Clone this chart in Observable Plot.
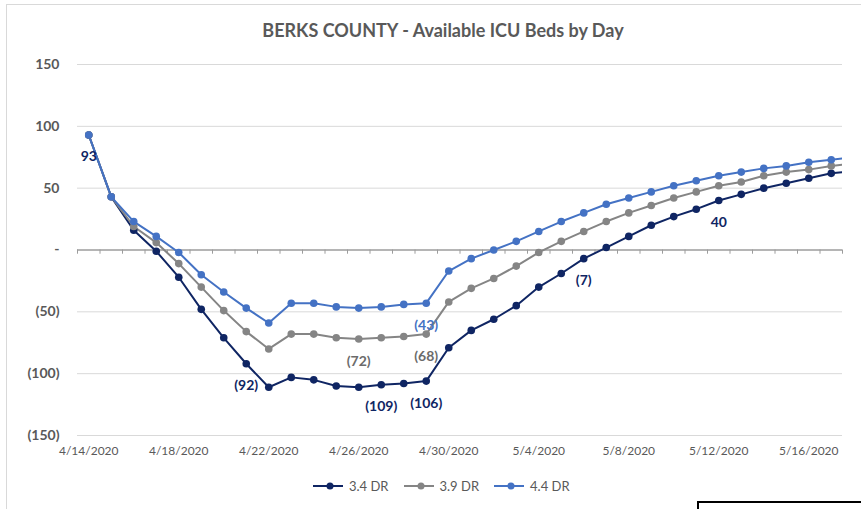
<!DOCTYPE html>
<html>
<head>
<meta charset="utf-8">
<script src="https://cdn.jsdelivr.net/npm/d3@7"></script>
<script src="https://cdn.jsdelivr.net/npm/@observablehq/plot@0.6"></script>
<style>
  body { margin: 0; background: #fff; font-family: Lato, "Open Sans", sans-serif; }
  #wrap { position: relative; width: 861px; height: 509px; overflow: hidden; background: #fff; }
  #border { position: absolute; left: 6px; top: 4px; width: 900px; height: 600px; border: 1px solid #d9d9d9; box-sizing: border-box; }
  #title { position: absolute; left: 0; width: 886px; top: 19px; text-align: center; font-size: 18px; font-weight: 700; color: #595959; }
  #chart { position: absolute; left: 0; top: 0; }
  #legend { position: absolute; top: 478px; left: 313px; display: flex; align-items: center; font-size: 13px; color: #595959; }
  #legend .item { display: flex; align-items: center; margin-right: 15px; }
  #legend svg { margin-right: 6px; }
  #box { position: absolute; left: 697px; top: 501px; width: 300px; height: 100px; border: 2px solid #000; }
</style>
</head>
<body>
<div id="wrap">
  <div id="border"></div>
  <div id="title"></div>
  <div id="chart"></div>
  <div id="legend"></div>
  <div id="box"></div>
</div>
<script>
const titleText = "BERKS COUNTY - Available ICU Beds by Day";
const dates = [
  "4/14/2020","4/15/2020","4/16/2020","4/17/2020","4/18/2020","4/19/2020","4/20/2020",
  "4/21/2020","4/22/2020","4/23/2020","4/24/2020","4/25/2020","4/26/2020","4/27/2020",
  "4/28/2020","4/29/2020","4/30/2020","5/1/2020","5/2/2020","5/3/2020","5/4/2020",
  "5/5/2020","5/6/2020","5/7/2020","5/8/2020","5/9/2020","5/10/2020","5/11/2020",
  "5/12/2020","5/13/2020","5/14/2020","5/15/2020","5/16/2020","5/17/2020","5/18/2020"
];
const dr34 = [93, 43, 16, -1, -22, -48, -71, -92, -111, -103, -105, -110, -111, -109,
  -108, -106, -79, -65, -56, -45, -30, -19, -7, 2, 11, 20, 27, 33, 40, 45, 50, 54, 58, 62, 64];
const dr39 = [93, 43, 19, 6, -11, -30, -49, -66, -80, -68, -68, -71, -72, -71,
  -70, -68, -42, -31, -23, -13, -2, 7, 15, 23, 30, 36, 42, 47, 52, 55, 60, 63, 65, 68, 70];
const dr44 = [93, 43, 23, 11, -2, -20, -34, -47, -59, -43, -43, -46, -47, -46,
  -44, -43, -17, -7, 0, 7, 15, 23, 30, 37, 42, 47, 52, 56, 60, 63, 66, 68, 71, 73, 75];
const seriesNames = ["3.4 DR", "3.9 DR", "4.4 DR"];
const seriesColors = ["#0f2563", "#858585", "#4472c4"];
const labelColors = ["#0f2563", "#6b6b6b", "#4472c4"];
const yTicks = [-150, -100, -50, 0, 50, 100, 150];
const xTickLabels = ["4/14/2020","4/18/2020","4/22/2020","4/26/2020","4/30/2020","5/4/2020","5/8/2020","5/12/2020","5/16/2020"];
const visibleDays = 34; // 4/14 .. 5/17 inside the plot area
const labelSeries = ["3.4 DR","3.4 DR","3.4 DR","3.4 DR","3.4 DR","3.4 DR","3.9 DR","3.9 DR","4.4 DR"];
const labelDates  = ["4/14/2020","4/21/2020","4/27/2020","4/29/2020","5/6/2020","5/12/2020","4/26/2020","4/29/2020","4/29/2020"];

document.getElementById("title").textContent = titleText;

const seriesValues = [dr34, dr39, dr44];
const rows = seriesNames.flatMap((s, k) => seriesValues[k].map((v, i) => ({series: s, i, value: v})));
const labels = labelSeries.map((s, j) => {
  const k = seriesNames.indexOf(s);
  const i = dates.indexOf(labelDates[j]);
  return {series: s, i, value: seriesValues[k][i], color: labelColors[k]};
});
const fmt = v => v === 0 ? "-" : v < 0 ? `(${Math.abs(v)})` : `${v}`;
const boundaries = d3.range(visibleDays + 1).map(d => d - 0.5);
const xTicks = xTickLabels.map(d => dates.indexOf(d));

const chart = Plot.plot({
  width: 861,
  height: 509,
  marginLeft: 77,
  marginRight: 19,
  marginTop: 64,
  marginBottom: 74,
  x: {type: "linear", domain: [-0.5, visibleDays - 0.5], label: null},
  y: {domain: [-150, 150], label: null},
  color: {domain: seriesNames, range: seriesColors},
  style: {fontFamily: "Lato, 'Open Sans', sans-serif", background: "transparent", color: "#595959"},
  marks: [
    Plot.ruleY(yTicks.filter(d => d !== 0), {stroke: "#d9d9d9", strokeWidth: 1}),
    Plot.ruleY([0], {stroke: "#9c9c9c", strokeWidth: 1.3}),
    Plot.ruleX(boundaries, {x: d => d, y1: 0, y2: -3.4, stroke: "#9c9c9c", strokeWidth: 1}),
    Plot.axisY({ticks: yTicks, label: null, tickSize: 0, tickPadding: 18, tickFormat: fmt, fontSize: 14, fontWeight: "bold", color: "#595959", fill: "#595959"}),
    Plot.axisX({ticks: xTicks, label: null, tickSize: 0, tickPadding: 11, tickFormat: i => dates[i], fontSize: 12, color: "#595959", fill: "#595959"}),
    Plot.line(rows, {x: "i", y: "value", stroke: "series", z: "series", strokeWidth: 2, clip: true}),
    Plot.dot(rows, {x: "i", y: "value", fill: "series", r: 3.8, clip: true}),
    Plot.text(labels, {x: "i", y: "value", text: d => fmt(d.value), fill: "color", dy: 22, fontSize: 14, fontWeight: "bold"})
  ]
});
document.getElementById("chart").appendChild(chart);

// legend
const legend = document.getElementById("legend");
seriesNames.forEach((s, k) => {
  const item = document.createElement("div");
  item.className = "item";
  const ns = "http://www.w3.org/2000/svg";
  const svg = document.createElementNS(ns, "svg");
  svg.setAttribute("width", 30); svg.setAttribute("height", 12);
  const line = document.createElementNS(ns, "line");
  line.setAttribute("x1", 0); line.setAttribute("x2", 30); line.setAttribute("y1", 6); line.setAttribute("y2", 6);
  line.setAttribute("stroke", seriesColors[k]); line.setAttribute("stroke-width", 2);
  const c = document.createElementNS(ns, "circle");
  c.setAttribute("cx", 17); c.setAttribute("cy", 6); c.setAttribute("r", 3.5); c.setAttribute("fill", seriesColors[k]);
  svg.appendChild(line); svg.appendChild(c);
  const t = document.createElement("span");
  t.textContent = s;
  item.appendChild(svg); item.appendChild(t);
  legend.appendChild(item);
});
</script>
</body>
</html>
